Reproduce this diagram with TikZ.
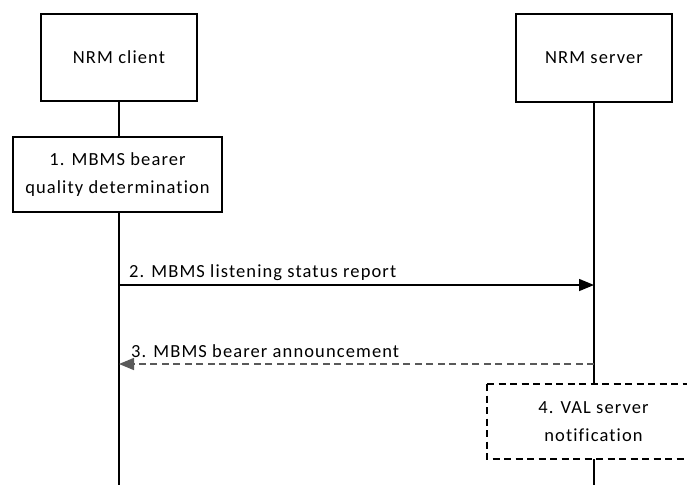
\documentclass[tikz,border=0pt]{standalone}
\usepackage{fontspec}
\setmainfont[LetterSpace=6,Ligatures={NoCommon,NoRare}]{Carlito}
\usetikzlibrary{arrows.meta}
\definecolor{dgrey}{HTML}{595959}
\begin{document}
\begin{tikzpicture}[x=1pt,y=-1pt,
  font=\fontsize{18.5}{28}\selectfont,
  box/.style={draw=black, line width=1.5pt, fill=white, align=center, inner sep=0pt},
  life/.style={draw=black, line width=1.5pt},
  msg/.style={line width=1.5pt, -{Triangle[length=15pt,width=12pt]}},
  ret/.style={draw=dgrey, line width=1.5pt, dash pattern=on 7pt off 4.5pt, -{Triangle[length=15pt,width=12pt,fill=dgrey]}},
  lbl/.style={anchor=base west, inner sep=0pt}]
\path[use as bounding box] (0,0) rectangle (687,485);
\clip (0,0) rectangle (687,485);
\fill[white] (0,0) rectangle (687,485);
\coordinate (cbot) at (119,485);
\coordinate (sbot) at (594,485);
\node[box, minimum width=156pt, minimum height=87pt] (client) at (119,57.5) {NRM client};
\node[box, minimum width=156pt, minimum height=88pt] (server) at (594,58) {NRM server};
\node[box, minimum width=209pt, minimum height=75pt] (step1) at (117.5,174.5) {1. MBMS bearer\\quality determination};
\node[box, draw=none, fill=none, minimum width=213pt, minimum height=75pt] (step4) at (593.5,421.5) {4. VAL server\\notification};
\draw[black, line width=1.5pt, dash pattern=on 7pt off 4.5pt] (487,384) -- (700,384) (487,384) -- (487,459) -- (700,459);
\draw[life] (client.south) -- (client.south |- step1.north);
\draw[life] (client.south |- step1.south) -- (cbot);
\draw[life] (server.south) -- (594,384);
\draw[life] (594,459) -- (sbot);
\coordinate (a2s) at (119,285);
\coordinate (a2e) at (594,285);
\draw[msg] (a2s) -- (a2e);
\node[lbl] (l2) at (129,277) {2. MBMS listening status report};
\coordinate (a3s) at (594,364);
\coordinate (a3e) at (119,364);
\draw[ret] (a3s) -- (a3e);
\node[lbl] (l3) at (131,357) {3. MBMS bearer announcement};
\end{tikzpicture}
\end{document}
